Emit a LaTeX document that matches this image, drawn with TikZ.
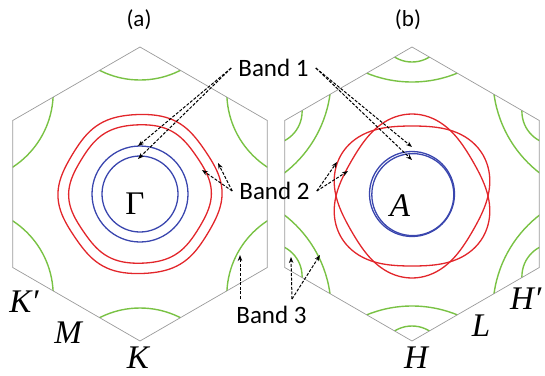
\documentclass[tikz,border=0pt]{standalone}
\usepackage{fontspec}
\setmainfont{Liberation Serif}
\newfontfamily\bandfont{Carlito}
\usetikzlibrary{arrows.meta}
\definecolor{BandRed}{HTML}{E2262B}
\definecolor{BandBlue}{HTML}{3A46AE}
\definecolor{BandGreen}{HTML}{79C244}
\definecolor{ZoneGray}{HTML}{9A9A9A}

\begin{document}
\begin{tikzpicture}[
 x=1pt,y=-1pt,
 zone/.style={draw=ZoneGray,line width=0.7pt},
 bandone/.style={draw=BandBlue,line width=1.3pt},
 bandtwo/.style={draw=BandRed,line width=1.3pt},
 bandthree/.style={draw=BandGreen,line width=1.4pt},
 panel/.style={font=\bandfont\fontsize{23}{25}\selectfont},
 bandlbl/.style={font=\bandfont\fontsize{25}{28}\selectfont,inner sep=7pt},
 kpt/.style={font=\itshape\fontsize{33}{35}\selectfont,inner sep=0pt},
 arrow/.style={-{Stealth[length=6pt,width=4.5pt]},dash pattern=on 3pt off 1.6pt,line width=1pt}
]
\useasboundingbox (0,0) rectangle (545,375);

% (a) plane through Gamma
\begin{scope}[shift={(140,194)}]
 \begin{scope}
  \clip (90:147) -- (150:147) -- (210:147) -- (270:147) -- (330:147) -- (30:147) -- cycle;
  \foreach \a in {30,90,...,330}
   \draw[bandthree] (\a:203) circle (89);
 \end{scope}
 \draw[zone] (90:147) -- (150:147) -- (210:147) -- (270:147) -- (330:147) -- (30:147) -- cycle;
 \draw[bandtwo] plot[domain=0:360,samples=121] (\x:{80+1.3*cos(6*\x+10)+0.8*cos(4*\x)}) -- cycle;
 \draw[bandtwo] plot[domain=0:360,samples=121] (\x:{69.5+1.1*cos(6*\x+10)+0.8*cos(4*\x)}) -- cycle;
 \draw[bandone] (0,0) circle (48);
 \draw[bandone] (0,0) circle (38);
\end{scope}

% (b) plane through A
\begin{scope}[shift={(412,194)}]
 \begin{scope}
  \clip (90:147) -- (150:147) -- (210:147) -- (270:147) -- (330:147) -- (30:147) -- cycle;
  \foreach \a in {30,90,...,330}{
   \draw[bandthree] (\a:232) circle (120);
   \draw[bandthree] (\a:165) circle (33);
  }
 \end{scope}
 \draw[zone] (90:147) -- (150:147) -- (210:147) -- (270:147) -- (330:147) -- (30:147) -- cycle;
 \draw[bandtwo] plot[domain=0:360,samples=121] ([yshift=-2pt]\x:{76+6*sin(3*\x)}) -- cycle;
 \draw[bandtwo] plot[domain=0:360,samples=121] ([yshift=-2pt]\x:{76-6*sin(3*\x)}) -- cycle;
 \draw[bandone] (0,0) circle (42.5);
 \draw[bandone] (0.8,0.6) circle (41);
\end{scope}

\node[panel] (pa) at (139,20) {(a)};
\node[panel] (pb) at (408,20) {(b)};
\node[bandlbl] (b1) at (273.5,68) {Band 1};
\node[bandlbl] (b2) at (274.5,191) {Band 2};
\node[bandlbl] (b3) at (271.5,315) {Band 3};

\node[kpt,font=\upshape\fontsize{33}{35}\selectfont] (gam) at (135,204) {Γ};
\node[kpt] (ka) at (400,206) {A};
\node[kpt] (kkp) at (24,302) {K′};
\node[kpt] (km) at (68,333) {M};
\node[kpt] (kk) at (138,358) {K};
\node[kpt] (kh) at (416,358) {H};
\node[kpt] (kl) at (481,326) {L};
\node[kpt,anchor=west] (khp) at (510,299) {H′};

\coordinate (t1a) at (138,146);
\coordinate (t1b) at (138,159);
\coordinate (t1c) at (412,147);
\coordinate (t1d) at (412,160);
\coordinate (t2a) at (202,170);
\coordinate (t2b) at (218,163);
\coordinate (t2c) at (337,162);
\coordinate (t2d) at (348,171);
\coordinate (t3a) at (240,255);
\coordinate (t3b) at (291,257);
\coordinate (t3c) at (320,255);

\draw[arrow] (b1.west) -- (t1a);
\draw[arrow] (b1.west) -- (t1b);
\draw[arrow] (b1.east) -- (t1c);
\draw[arrow] (b1.east) -- (t1d);
\draw[arrow] (b2.west) -- (t2a);
\draw[arrow] (b2.west) -- (t2b);
\draw[arrow] (b2.east) -- (t2c);
\draw[arrow] (b2.east) -- (t2d);
\draw[arrow] (b3.north -| t3a) -- (t3a);
\draw[arrow] ([xshift=20.5pt]b3.north) -- (t3b);
\draw[arrow] ([xshift=20.5pt]b3.north) -- (t3c);
\end{tikzpicture}
\end{document}
